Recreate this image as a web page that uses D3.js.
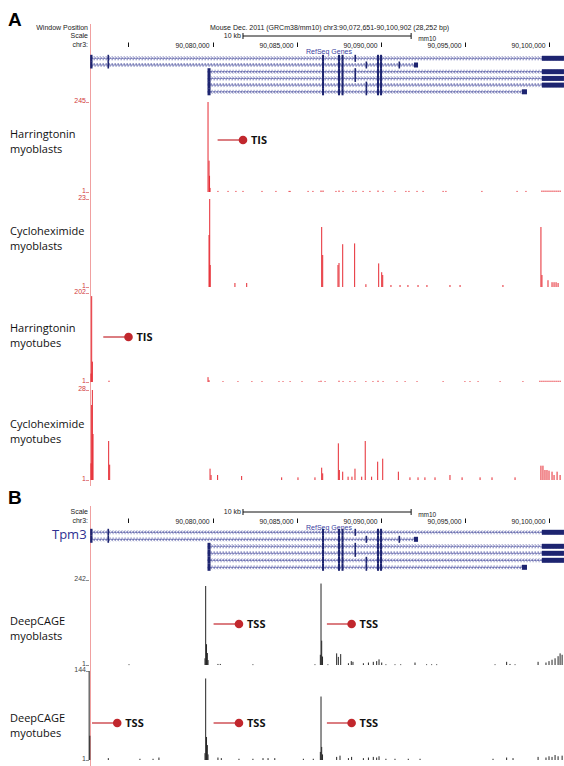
<!DOCTYPE html>
<html><head><meta charset="utf-8">
<script src="https://cdn.jsdelivr.net/npm/d3@7"></script>
<style>
html,body{margin:0;padding:0;background:#fff;overflow:hidden;}
svg{display:block;}
</style></head>
<body>
<script>
// ---------- DATA ----------
const region = [90072.651, 90100.902]; // kb, chr3
const tickPositions = [90075, 90080, 90085, 90090, 90095, 90100];
const tickLabels = ["", "90,080,000", "90,085,000", "90,090,000", "90,095,000", "90,100,000"];
const scaleBarKb = [90081.81, 90091.81];

// transcripts: [start, end], exons [s, e, kind] kind: "c" coding tall, "u" utr/end
const transcripts = [
  {span:[90072.75, 90100.90], exons:[[90072.72,90072.86,"c"],[90073.75,90073.84,"c"],[90086.51,90086.63,"c"],[90087.46,90087.58,"c"],[90087.67,90087.79,"c"],[90088.44,90088.50,"c"],[90089.78,90089.90,"c"],[90089.96,90090.08,"c"],[90099.59,90100.90,"u"]]},
  {span:[90072.75, 90092.22], exons:[[90072.72,90072.86,"c"],[90073.75,90073.84,"c"],[90086.51,90086.63,"c"],[90087.46,90087.58,"c"],[90087.67,90087.79,"c"],[90089.10,90089.16,"c"],[90089.78,90089.90,"c"],[90089.96,90090.08,"c"],[90091.06,90091.12,"c"],[90091.98,90092.22,"u"]]},
  {span:[90079.70, 90100.90], exons:[[90079.70,90079.88,"c"],[90086.51,90086.63,"c"],[90087.46,90087.58,"c"],[90087.67,90087.79,"c"],[90088.44,90088.50,"c"],[90089.78,90089.90,"c"],[90089.96,90090.08,"c"],[90099.59,90100.90,"u"]]},
  {span:[90079.70, 90100.90], exons:[[90079.70,90079.88,"c"],[90086.51,90086.63,"c"],[90087.46,90087.58,"c"],[90087.67,90087.79,"c"],[90088.44,90088.50,"c"],[90089.78,90089.90,"c"],[90089.96,90090.08,"c"],[90099.59,90100.90,"u"]]},
  {span:[90079.70, 90100.90], exons:[[90079.70,90079.88,"c"],[90086.51,90086.63,"c"],[90087.46,90087.58,"c"],[90087.67,90087.79,"c"],[90089.10,90089.16,"c"],[90089.78,90089.90,"c"],[90089.96,90090.08,"c"],[90099.59,90100.90,"u"]]},
  {span:[90079.70, 90098.70], exons:[[90079.70,90079.88,"c"],[90086.51,90086.63,"c"],[90087.46,90087.58,"c"],[90087.67,90087.79,"c"],[90089.10,90089.16,"c"],[90089.78,90089.90,"c"],[90089.96,90090.08,"c"],[90098.40,90098.70,"u"]]}
];

const harrMyoblasts = [[90079.73,245],[90079.79,86],[90079.82,45],[90079.85,12],
 [90080.32,4],[90080.92,4],[90081.39,4],[90081.81,4],[90082.94,4],[90083.77,4],[90084.55,4],[90084.61,4],[90085.68,4],[90085.97,4],[90086.45,5],[90086.57,5],[90087.34,4],[90087.52,5],[90087.76,4],[90088.35,4],[90088.53,4],[90088.95,4],[90089.36,4],[90089.84,5],[90090.14,4],[90090.85,4],[90091.50,4],[90091.68,4],[90092.16,4],[90092.52,4],[90093.71,4],[90093.88,4],[90096.02,4],[90098.11,4],[90098.64,4],[90099.59,5],[90099.71,5],[90099.83,5],[90099.95,5],[90100.07,5],[90100.19,5],[90100.31,5],[90100.43,5],[90100.55,5],[90100.67,5]];
const cyclMyoblasts = [[90079.83,23],[90079.79,14],[90079.86,6.5],[90081.33,2],[90082.03,2],[90086.49,16],[90086.55,9],[90087.52,7],[90087.46,6.5],[90087.74,11.7],[90088.45,11.9],[90089.12,1.7],[90089.88,6.9],[90090.06,4.7],[90090.12,4],[90090.61,1.5],[90091.15,1.5],[90091.62,1.5],[90092.22,1.5],[90092.75,1.5],[90094.12,1.5],[90094.72,1.5],[90097.27,1.5],[90099.53,16],[90099.59,4],[90099.95,2.7],[90100.19,2.2],[90100.31,2.2],[90100.43,2.2],[90100.55,2]];
const harrMyotubes = [[90072.81,195],[90072.85,47],[90072.77,20],[90073.84,4],[90079.73,12],[90079.79,5],[90080.62,3],[90081.51,3],[90082.34,3],[90082.94,3],[90083.95,3],[90084.19,3],[90084.61,3],[90085.32,3],[90086.33,3],[90086.45,4],[90086.69,3],[90087.52,4],[90087.76,3],[90088.17,3],[90088.47,3],[90089.12,3],[90089.54,3],[90089.84,4],[90090.14,3],[90090.97,3],[90091.45,3],[90092.16,3],[90093.71,3],[90095.01,3],[90095.31,3],[90095.79,3],[90097.10,3],[90098.46,3],[90099.47,4],[90099.59,4],[90099.71,4],[90099.83,4],[90099.95,4],[90100.07,4],[90100.19,4],[90100.31,4],[90100.43,4],[90100.55,4],[90100.67,4]];
const cyclMyotubes = [[90072.85,28],[90072.81,23.5],[90072.89,14.8],[90072.77,6],[90073.82,12.7],[90073.88,5.6],[90079.85,4.4],[90079.91,2.5],[90080.30,2.5],[90081.73,2.2],[90084.11,1.8],[90085.08,1.8],[90086.09,1.8],[90086.49,4.7],[90086.55,3],[90087.48,12],[90087.54,4],[90087.74,3.5],[90088.06,2],[90088.29,2],[90088.47,4.4],[90088.87,2],[90089.08,12.7],[90089.46,2],[90089.82,6.5],[90090.12,7.4],[90091.05,3.5],[90091.74,1.8],[90092.22,1.8],[90092.63,1.8],[90093.23,1.8],[90094.12,2.5],[90094.84,1.8],[90095.91,1.8],[90096.62,1.8],[90097.99,1.8],[90099.53,5.3],[90099.65,5.3],[90099.77,4],[90099.89,4],[90100.01,3.8],[90100.19,3.5],[90100.31,2.5],[90100.49,3.5],[90100.67,2.5]];
const cageMyoblasts = [[90079.55,20],[90079.59,225],[90079.64,60],[90079.69,35],[90079.73,15],[90080.32,4],[90080.46,4],[90082.40,3],[90075.03,3],[90086.41,30],[90086.45,232],[90086.49,70],[90086.54,25],[90086.09,3],[90086.86,3],[90087.38,34],[90087.48,24],[90087.62,32],[90088.08,6],[90088.25,12],[90088.35,10],[90088.97,6],[90089.27,8],[90089.56,10],[90089.76,12],[90089.90,17],[90090.06,8],[90090.31,3],[90090.85,3],[90091.19,3],[90092.04,8],[90092.73,3],[90093.03,3],[90093.33,3],[90096.80,3],[90097.49,10],[90097.69,4],[90097.99,3],[90099.36,10],[90099.83,8],[90100.01,12],[90100.19,16],[90100.37,20],[90100.55,26],[90100.67,34],[90100.79,30]];
const cageMyotubes = [[90072.66,144],[90072.70,40],[90073.80,4],[90075.68,3],[90076.46,3],[90076.81,5],[90079.55,12],[90079.59,132],[90079.64,38],[90079.69,25],[90079.73,10],[90080.32,5],[90080.52,4],[90081.57,3],[90082.40,3],[90083.00,4],[90083.30,4],[90083.70,4],[90085.40,3],[90085.99,3],[90086.41,14],[90086.45,103],[90086.49,22],[90086.54,10],[90087.38,6],[90087.58,8],[90088.08,4],[90088.27,6],[90088.97,4],[90089.27,5],[90089.56,6],[90089.76,5],[90089.90,7],[90090.31,3],[90090.85,3],[90091.64,3],[90092.34,3],[90096.68,3],[90097.49,5],[90097.87,4],[90099.36,6],[90099.83,5],[90100.01,7],[90100.19,6],[90100.37,9],[90100.55,7],[90100.79,8]];

const trackNames = [["Harringtonin","myoblasts"],["Cycloheximide","myoblasts"],["Harringtonin","myotubes"],["Cycloheximide","myotubes"],["DeepCAGE","myoblasts"],["DeepCAGE","myotubes"]];
const trackMax = [245, 23, 202, 28, 242, 144];
// markers: [track index, line start kb, line end kb, label]
const markers = [[0,90080.30,90081.81,"TIS"],[2,90073.50,90075.00,"TIS"],
  [4,90080.06,90081.57,"TSS"],[4,90086.80,90088.27,"TSS"],
  [5,90072.83,90074.33,"TSS"],[5,90080.06,90081.57,"TSS"],[5,90086.80,90088.27,"TSS"]];

// ---------- LAYOUT ----------
const W = 564, H = 766;
const svg = d3.select("body").append("svg").attr("width", W).attr("height", H);
const x = d3.scaleLinear().domain(region).range([89, 564]);
const SMALL = "'Liberation Sans', Arial, sans-serif";
const LABEL = "'Open Sans', 'Noto Sans', sans-serif";
const GENE = "#1d2470";

const defs = svg.append("defs");
const pat = defs.append("pattern").attr("id","chev").attr("patternUnits","userSpaceOnUse")
  .attr("width",3).attr("height",4).attr("x",0).attr("y",-2);
pat.append("path").attr("d","M2.6,0.2 L0.6,2 L2.6,3.8").attr("fill","none").attr("stroke","#4a50a0").attr("stroke-width",0.8);

// left red guide lines
svg.append("line").attr("x1",90.5).attr("x2",90.5).attr("y1",24).attr("y2",486).attr("stroke","#f0a0a0").attr("stroke-width",1);
svg.append("line").attr("x1",90.5).attr("x2",90.5).attr("y1",506).attr("y2",766).attr("stroke","#f0a0a0").attr("stroke-width",1);

// panel letters
svg.append("text").attr("x",8).attr("y",26).text("A").attr("font-family","Arial, 'Liberation Sans', sans-serif").attr("font-weight","bold").attr("font-size",19);
svg.append("text").attr("x",8).attr("y",504).text("B").attr("font-family","Arial, 'Liberation Sans', sans-serif").attr("font-weight","bold").attr("font-size",19);

function smallText(g, tx, ty, t, anchor, color, size){
  return g.append("text").attr("x",tx).attr("y",ty).text(t).attr("font-family",SMALL).attr("font-size",size||7)
    .attr("text-anchor",anchor||"start").attr("fill",color||"#222");
}

function header(y0, withTitle){
  const g = svg.append("g");
  if (withTitle){
    smallText(g, 88, y0-8, "Window Position", "end");
    smallText(g, 210, y0-8, "Mouse Dec. 2011 (GRCm38/mm10)   chr3:90,072,651-90,100,902 (28,252 bp)");
  }
  smallText(g, 88, y0, "Scale", "end");
  smallText(g, 88, y0+9, "chr3:", "end");
  // scale bar
  const by = y0-2;
  g.append("line").attr("x1",x(scaleBarKb[0])).attr("x2",x(scaleBarKb[1])).attr("y1",by).attr("y2",by).attr("stroke","#111").attr("stroke-width",1);
  [scaleBarKb[0],scaleBarKb[1]].forEach(k=>g.append("line").attr("x1",x(k)).attr("x2",x(k)).attr("y1",by-3).attr("y2",by+3).attr("stroke","#111"));
  smallText(g, x(scaleBarKb[0])-2, y0, "10 kb", "end");
  smallText(g, x(scaleBarKb[1])+7, y0+3, "mm10", "start", "#222", 6.5);
  // ticks
  tickPositions.forEach((k,i)=>{
    const tx = Math.round(x(k))+0.5;
    g.append("line").attr("x1",tx).attr("x2",tx).attr("y1",y0+4.5).attr("y2",y0+9).attr("stroke","#111").attr("stroke-width",1);
    if (tickLabels[i]) smallText(g, tx-4, y0+9.5, tickLabels[i], "end", "#222", 6.8);
  });
  smallText(g, 306, y0+15.5, "RefSeq Genes", "start", "#3a40a0");
}

function genes(y0, dy){
  const g = svg.append("g");
  transcripts.forEach((t,i)=>{
    const cy = y0 + i*dy;
    g.append("rect").attr("x",x(t.span[0])).attr("y",cy-2).attr("width",x(t.span[1])-x(t.span[0])).attr("height",4).attr("fill","url(#chev)");
    g.append("line").attr("x1",x(t.span[0])).attr("x2",x(t.span[1])).attr("y1",cy).attr("y2",cy).attr("stroke","#3a3f95").attr("stroke-width",0.6);
    t.exons.forEach(e=>{
      const h = e[2]==="c" ? 7 : 5;
      const wpx = Math.max(1.6, x(e[1])-x(e[0]));
      g.append("rect").attr("x",x(e[0])).attr("y",cy-h/2).attr("width",wpx).attr("height",h).attr("fill",GENE);
    });
  });
}

function track(data, top, bottom, max, color, labColor){
  const g = svg.append("g");
  const y = d3.scaleLinear().domain([1, max]).range([bottom, top]);
  g.selectAll("rect").data(data).join("rect")
    .attr("x", d=>x(d[0])-0.5).attr("width",1)
    .attr("y", d=>y(d[1])).attr("height", d=>Math.max(0.8, bottom - y(d[1])))
    .attr("fill", color);
  const ax = d3.axisLeft(y).tickValues([1, max]).tickSize(3).tickFormat(d3.format("d"));
  const a = g.append("g").attr("transform","translate(89,0)").call(ax);
  a.select(".domain").remove();
  a.selectAll("line").attr("stroke", labColor).attr("stroke-width",0.6);
  a.selectAll("text").attr("fill", labColor).attr("font-size",7).attr("font-family",SMALL).attr("dy","0.1em").attr("x",-3);
  return y;
}

function trackLabel(i, y1){
  const g = svg.append("g");
  g.append("text").attr("x",10).attr("y",y1).text(trackNames[i][0]).attr("font-family",LABEL).attr("font-size",11).attr("fill","#111");
  g.append("text").attr("x",10).attr("y",y1+15).text(trackNames[i][1]).attr("font-family",LABEL).attr("font-size",11).attr("fill","#111");
}

// ----- Panel A -----
header(38, true);
genes(58.3, 6.7);
const boxes = [[102,192],[199,287],[293,382],[390,480],[580,665],[671,760]];
const datasets = [harrMyoblasts, cyclMyoblasts, harrMyotubes, cyclMyotubes, cageMyoblasts, cageMyotubes];
const labelY = [138, 235, 332, 428, 625, 722];
const markerY = [140, 236, 337, 0, 624, 723];
datasets.forEach((d,i)=>{
  const red = i<4;
  track(d, boxes[i][0], boxes[i][1], trackMax[i], red ? "#e62a32" : "#262626", red ? "#d23a3a" : "#444");
  trackLabel(i, labelY[i]);
});

// ----- Panel B -----
header(514, false);
svg.append("text").attr("x",52).attr("y",539).text("Tpm3").attr("font-family",LABEL).attr("font-size",13).attr("fill","#2e3192");
genes(532.3, 7);

// markers
markers.forEach(m=>{
  const my = markerY[m[0]];
  const g = svg.append("g");
  g.append("line").attr("x1",x(m[1])).attr("x2",x(m[2])).attr("y1",my).attr("y2",my).attr("stroke","#c8373d").attr("stroke-width",1.3);
  g.append("circle").attr("cx",x(m[2])).attr("cy",my).attr("r",4.3).attr("fill","#c1272d");
  g.append("text").attr("x",x(m[2])+8).attr("y",my+4).text(m[3]).attr("font-family",LABEL).attr("font-weight","bold").attr("font-size",11).attr("fill","#111");
});
</script>
</body></html>
